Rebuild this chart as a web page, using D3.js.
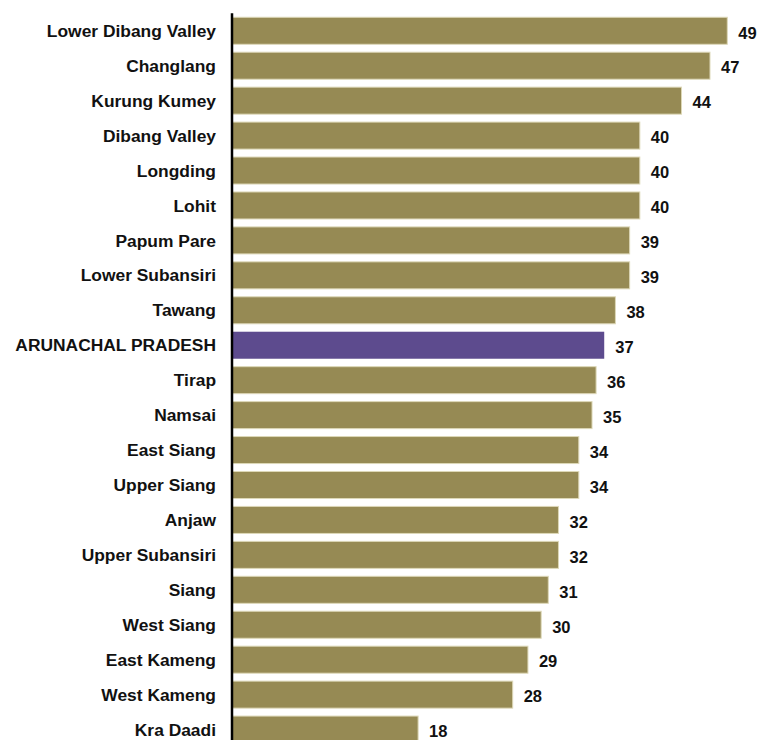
<!DOCTYPE html>
<html>
<head>
<meta charset="utf-8">
<script src="https://cdn.jsdelivr.net/npm/d3@7"></script>
<style>
  html, body { margin: 0; padding: 0; background: #ffffff; }
  svg { display: block; }
</style>
</head>
<body>
<svg id="chart" width="758" height="740"></svg>
<script>
const categories = [
  "Lower Dibang Valley", "Changlang", "Kurung Kumey", "Dibang Valley", "Longding",
  "Lohit", "Papum Pare", "Lower Subansiri", "Tawang", "ARUNACHAL PRADESH",
  "Tirap", "Namsai", "East Siang", "Upper Siang", "Anjaw",
  "Upper Subansiri", "Siang", "West Siang", "East Kameng", "West Kameng", "Kra Daadi"
];
const values = [
  48.7, 47.0, 44.2, 40.1, 40.1,
  40.1, 39.1, 39.1, 37.7, 36.6,
  35.8, 35.4, 34.1, 34.1, 32.1,
  32.1, 31.1, 30.4, 29.1, 27.6, 18.3
];
const highlight = "ARUNACHAL PRADESH";

const svg = d3.select("#chart");
const x0 = 232;
const pxPerUnit = 10.17;
const x = d3.scaleLinear().domain([0, 50]).range([x0, x0 + 50 * pxPerUnit]);
const y = d3.scaleBand()
  .domain(categories)
  .range([13.3, 13.3 + 21 * 34.94])
  .paddingInner(0.227)
  .paddingOuter(0.1135);

const data = categories.map((c, i) => ({ cat: c, val: values[i] }));

svg.selectAll("rect.bar")
  .data(data)
  .enter().append("rect")
  .attr("class", "bar")
  .attr("x", x(0))
  .attr("y", d => y(d.cat))
  .attr("width", d => x(d.val) - x(0))
  .attr("height", y.bandwidth())
  .attr("fill", d => d.cat === highlight ? "#5d4b8e" : "#968a54")
  .attr("stroke", d => d.cat === highlight ? "none" : "#ddd8b8")
  .attr("stroke-width", 1);

svg.selectAll("text.cat")
  .data(data)
  .enter().append("text")
  .attr("class", "cat")
  .attr("x", 216)
  .attr("y", d => y(d.cat) + y.bandwidth() / 2)
  .attr("dy", "0.35em")
  .attr("text-anchor", "end")
  .attr("font-family", "'Liberation Sans', Arial, sans-serif")
  .attr("font-weight", "bold")
  .attr("font-size", "17.4px")
  .attr("fill", "#111")
  .text(d => d.cat);

svg.selectAll("text.val")
  .data(data)
  .enter().append("text")
  .attr("class", "val")
  .attr("x", d => x(d.val) + 11)
  .attr("y", d => y(d.cat) + y.bandwidth() / 2 + 2)
  .attr("dy", "0.35em")
  .attr("font-family", "'Liberation Sans', Arial, sans-serif")
  .attr("font-weight", "bold")
  .attr("font-size", "16.5px")
  .attr("fill", "#111")
  .text(d => d3.format(".0f")(d.val));

svg.append("line")
  .attr("x1", x(0)).attr("x2", x(0))
  .attr("y1", 13.3).attr("y2", 740)
  .attr("stroke", "#000")
  .attr("stroke-width", 2.5);
</script>
</body>
</html>
